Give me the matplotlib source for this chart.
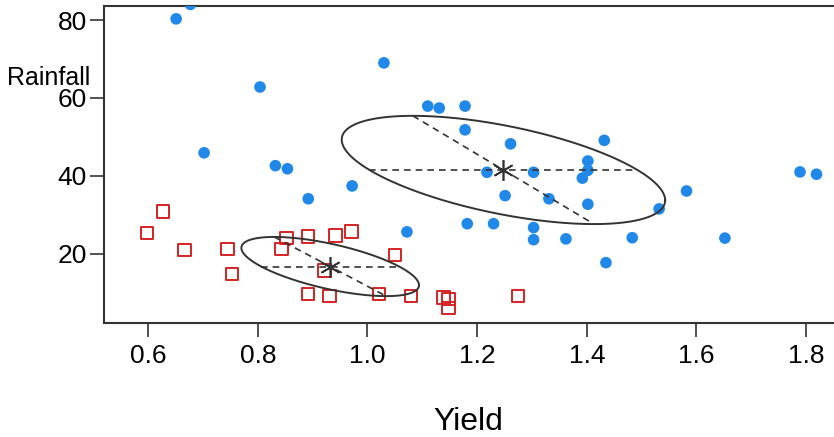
import numpy as np
import matplotlib
matplotlib.use("Agg")
import matplotlib.pyplot as plt

# ---- data ----
blue_x = [0.651, 0.677, 1.030, 0.804, 0.702, 0.832, 0.854, 0.892, 0.972, 1.072,
          1.110, 1.131, 1.178, 1.178, 1.261, 1.432, 1.402, 1.402, 1.392, 1.218,
          1.303, 1.251, 1.331, 1.402, 1.532, 1.182, 1.230, 1.303, 1.303, 1.362,
          1.483, 1.435, 1.582, 1.652, 1.789, 1.819]
blue_y = [80.3, 84.0, 69.0, 62.8, 45.9, 42.6, 41.8, 34.1, 37.4, 25.6,
          57.9, 57.4, 57.9, 51.8, 48.2, 49.1, 43.8, 41.4, 39.4, 40.9,
          40.9, 34.9, 34.1, 32.7, 31.5, 27.7, 27.7, 26.7, 23.6, 23.8,
          24.1, 17.7, 36.1, 24.0, 41.0, 40.4]

red_x = [0.627, 0.598, 0.666, 0.745, 0.753, 0.852, 0.843, 0.892, 0.942, 0.971,
         1.050, 0.922, 0.892, 0.931, 1.021, 1.079, 1.139, 1.148, 1.148, 1.275]
red_y = [30.8, 25.3, 21.0, 21.2, 14.8, 24.0, 21.2, 24.4, 24.7, 25.7,
         19.7, 15.7, 9.7, 9.2, 9.7, 9.2, 8.7, 8.4, 6.1, 9.2]

# ellipse summaries per group: centre, extents along x / y, correlation
ell_cx = [1.248, 0.932]
ell_cy = [41.5, 16.7]
ell_sx = [0.295, 0.162]
ell_sy = [13.9, 7.6]
ell_r = [-0.56, -0.63]

x_ticks = [0.6, 0.8, 1.0, 1.2, 1.4, 1.6, 1.8]
x_ticklabels = ["0.6", "0.8", "1.0", "1.2", "1.4", "1.6", "1.8"]
y_ticks = [20, 40, 60, 80]
y_ticklabels = ["20", "40", "60", "80"]

# ---- style ----
plt.rcParams['font.family'] = ['Liberation Sans', 'DejaVu Sans']
W, H = 834, 437
fig = plt.figure(figsize=(W / 100, H / 100), dpi=100)
ax_l, ax_r, ax_b, ax_t = 103.5, 834, 323, 6
ax = fig.add_axes([ax_l / W, (H - ax_b) / H, (ax_r - ax_l) / W, (ax_b - ax_t) / H])

dark = '#333333'
blue = '#1f88e8'
red = '#d42222'

ax.scatter(blue_x, blue_y, s=70, color=blue, edgecolors='none', zorder=3)
ax.scatter(red_x, red_y, s=80, marker='s', facecolors='none', edgecolors=red,
           linewidths=1.4, zorder=3)

t = np.linspace(0, 2 * np.pi, 400)
for cx, cy, sx, sy, r in zip(ell_cx, ell_cy, ell_sx, ell_sy, ell_r):
    q = np.sqrt(1 - r * r)
    ex = cx + sx * np.cos(t)
    ey = cy + sy * (r * np.cos(t) + q * np.sin(t))
    ax.plot(ex, ey, color=dark, lw=1.4, zorder=4)
    # horizontal chord through centre
    ax.plot([cx - sx * q, cx + sx * q], [cy, cy], color=dark, lw=1.2,
            ls=(0, (4, 3)), zorder=4)
    # line joining topmost and bottommost points
    ax.plot([cx + sx * r, cx - sx * r], [cy + sy, cy - sy], color=dark, lw=1.2,
            ls=(0, (4, 3)), zorder=4)
    ax.plot([cx], [cy], marker=(6, 2, 0), markersize=15, color=dark, mew=1.2,
            ls='none', zorder=5)

ax.set_xlim(0.5185, 1.851)
ax.set_ylim(2.2, 83.6)
ax.set_xticks(x_ticks)
ax.set_xticklabels(x_ticklabels)
ax.set_yticks(y_ticks)
ax.set_yticklabels(y_ticklabels)

for side in ['left', 'bottom', 'top']:
    ax.spines[side].set_color(dark)
    ax.spines[side].set_linewidth(1.5)
ax.spines['right'].set_visible(False)

ax.tick_params(axis='both', direction='out', length=10, width=1.2, color=dark,
               labelsize=19, labelcolor='black')
ax.tick_params(axis='x', pad=5)
ax.tick_params(axis='y', pad=2)

ax.set_xlabel('Yield', fontsize=23, labelpad=28)
ax.set_ylabel('Rainfall', fontsize=18, rotation=0, ha='center', va='center')
ax.yaxis.set_label_coords((49 - ax_l) / (ax_r - ax_l), (ax_b - 78) / (ax_b - ax_t))

fig.savefig('out.png', dpi=100)
